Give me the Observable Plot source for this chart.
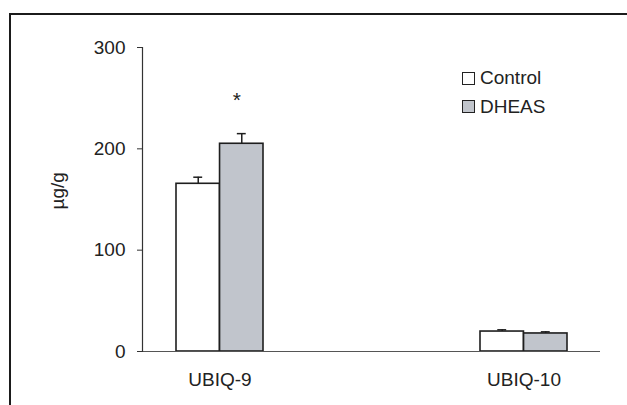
<!DOCTYPE html>
<html>
<head>
<meta charset="utf-8">
<script src="https://cdn.jsdelivr.net/npm/d3@7"></script>
<script src="https://cdn.jsdelivr.net/npm/@observablehq/plot@0.6"></script>
<style>
  html, body { margin: 0; padding: 0; background: #fff; }
  #wrap { position: relative; width: 627px; height: 405px; overflow: hidden; font-family: "Liberation Sans", Arial, sans-serif; }
  #border { position: absolute; left: 9px; top: 13px; right: -10px; bottom: -10px; border-top: 2.5px solid #1b1b1b; border-left: 2.5px solid #1b1b1b; }
  #legend { position: absolute; left: 462px; top: 64px; font-size: 19px; color: #222; line-height: 28.5px; }
  #legend .item { display: flex; align-items: center; }
  #legend .sw { width: 11px; height: 11px; border: 1.5px solid #222; margin-right: 5px; }
  svg { position: absolute; left: 0; top: 0; }
</style>
</head>
<body>
<div id="wrap">
  <div id="border"></div>
  <div id="chart"></div>
  <div id="legend"></div>
</div>
<script>
const categories = ["UBIQ-9", "UBIQ-10"];
const seriesNames = ["Control", "DHEAS"];
const seriesColors = ["#ffffff", "#c1c5cc"];
const controlValues = [165.5, 19.7];
const controlErrors = [6.5, 1.7];
const dheasValues = [205, 17.8];
const dheasErrors = [10, 1.6];
const yTicks = [0, 100, 200, 300];
const significant = [{category: "UBIQ-9", series: "DHEAS", label: "*"}];

const rows = [];
categories.forEach((c, i) => {
  rows.push({category: c, series: "Control", value: controlValues[i], err: controlErrors[i]});
  rows.push({category: c, series: "DHEAS", value: dheasValues[i], err: dheasErrors[i]});
});

const width = 627, height = 405;
const marginLeft = 142, marginRight = 27, marginTop = 47, marginBottom = 54;
const paddingInner = 0.714, paddingOuter = 0.109;
const step = (width - marginLeft - marginRight) / (categories.length - paddingInner + 2 * paddingOuter);
const bw = step * (1 - paddingInner);
const half = bw / 2;
const capHalf = 4.5;

const ctrl = rows.filter(d => d.series === "Control");
const dheas = rows.filter(d => d.series === "DHEAS");
const sigRows = significant.map(s => {
  const r = rows.find(d => d.category === s.category && d.series === s.series);
  return {...s, top: r.value + r.err};
});

const font = "Liberation Sans, Arial, sans-serif";
const chart = Plot.plot({
  width, height, marginLeft, marginRight, marginTop, marginBottom,
  style: {fontFamily: font, fontSize: "19px", color: "#222", background: "transparent"},
  x: {domain: categories, paddingInner, paddingOuter, label: null},
  y: {domain: [0, 300], label: null},
  marks: [
    Plot.barY(ctrl, {x: "category", y: "value", fill: seriesColors[0], stroke: "#1e1e1e", strokeWidth: 1.6, insetRight: half}),
    Plot.barY(dheas, {x: "category", y: "value", fill: seriesColors[1], stroke: "#1e1e1e", strokeWidth: 1.6, insetLeft: half}),
    Plot.ruleX(ctrl, {x: "category", y1: "value", y2: d => d.value + d.err, dx: -bw / 4, stroke: "#1e1e1e", strokeWidth: 1.5}),
    Plot.ruleX(dheas, {x: "category", y1: "value", y2: d => d.value + d.err, dx: bw / 4, stroke: "#1e1e1e", strokeWidth: 1.5}),
    Plot.tickY(ctrl, {x: "category", y: d => d.value + d.err, insetLeft: bw / 4 - capHalf, insetRight: 3 * bw / 4 - capHalf, stroke: "#1e1e1e", strokeWidth: 1.5}),
    Plot.tickY(dheas, {x: "category", y: d => d.value + d.err, insetLeft: 3 * bw / 4 - capHalf, insetRight: bw / 4 - capHalf, stroke: "#1e1e1e", strokeWidth: 1.5}),
    Plot.text(sigRows, {x: "category", y: "top", text: "label", dx: bw / 4 - 5, dy: -33, fontSize: 21, fill: "#222"}),
    Plot.ruleY([0], {stroke: "#555", strokeWidth: 1.2}),
    Plot.frame({anchor: "left", stroke: "#333", strokeWidth: 1.2}),
    Plot.axisY(yTicks, {tickSize: 5, tickPadding: 12, stroke: "#333", fontSize: 19, fill: "#222", label: null}),
    Plot.axisX({tickSize: 0, tickPadding: 21, fontSize: 19, fill: "#222", label: null}),
    Plot.text(["µg/g"], {frameAnchor: "left", rotate: -90, dx: -85, dy: 10, fontSize: 19, fill: "#222"})
  ]
});
document.getElementById("chart").appendChild(chart);

const legend = document.getElementById("legend");
seriesNames.forEach((name, i) => {
  const item = document.createElement("div");
  item.className = "item";
  const sw = document.createElement("span");
  sw.className = "sw";
  sw.style.background = seriesColors[i];
  item.appendChild(sw);
  item.appendChild(document.createTextNode(name));
  legend.appendChild(item);
});
</script>
</body>
</html>
